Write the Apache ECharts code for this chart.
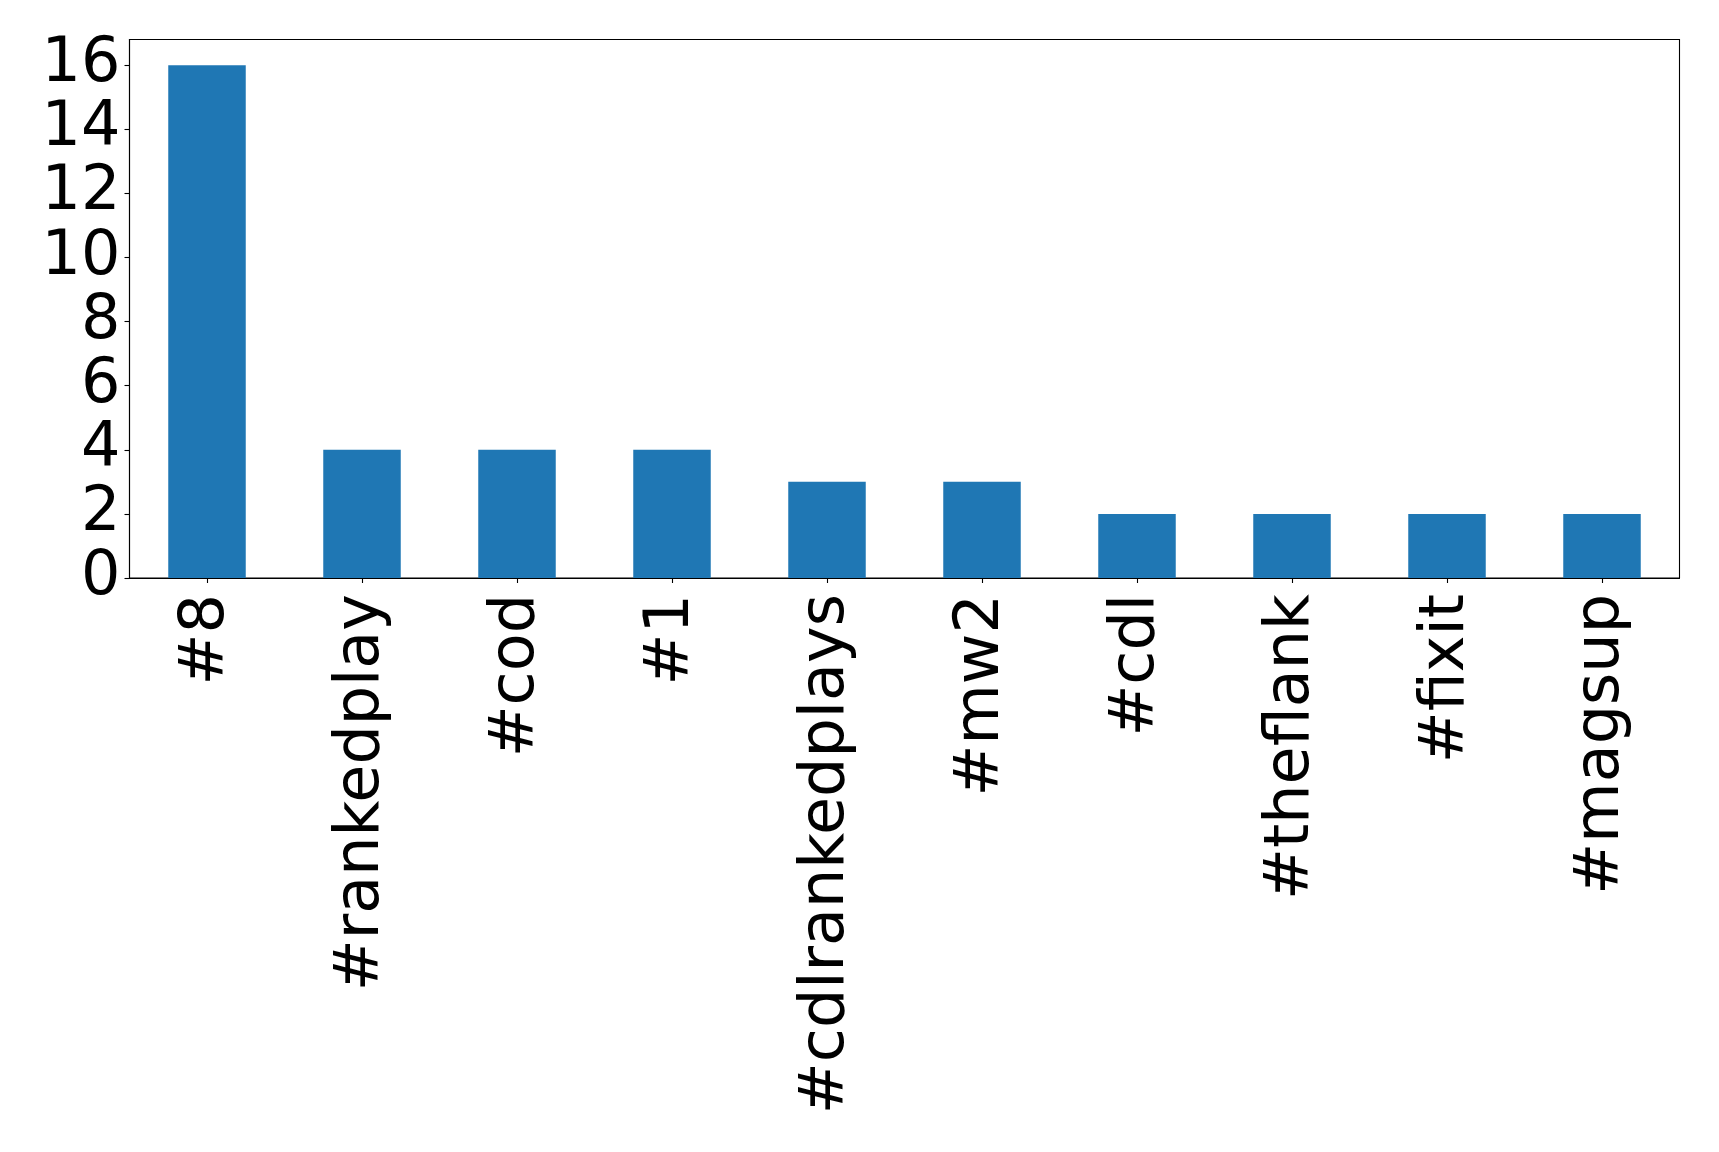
<!DOCTYPE html>
<html>
<head>
<meta charset="utf-8">
<script src="https://cdn.jsdelivr.net/npm/echarts@6/dist/echarts.min.js"></script>
<style>
html,body{margin:0;padding:0;background:#fff;}
#chart{width:1719px;height:1152px;}
</style>
</head>
<body>
<div id="chart"></div>
<script>
const categories = ['#8', '#rankedplay', '#cod', '#1', '#cdlrankedplays', '#mw2', '#cdl', '#theflank', '#fixit', '#magsup'];
const counts = [16, 4, 4, 4, 3, 3, 2, 2, 2, 2];
const yTicks = [0, 2, 4, 6, 8, 10, 12, 14, 16];

const chart = echarts.init(document.getElementById('chart'), null, {renderer: 'canvas'});
const font = 'DejaVu Sans';
chart.setOption({
  animation: false,
  backgroundColor: '#ffffff',
  grid: {
    left: 129.5, top: 39.5, right: 39.5, bottom: 574,
    show: true, borderColor: '#000', borderWidth: 1.1, backgroundColor: 'transparent',
    containLabel: false,
    outerBoundsMode: 'none'
  },
  xAxis: {
    type: 'category',
    data: categories,
    boundaryGap: true,
    axisLine: {show: true, lineStyle: {color: '#000', width: 1.1}},
    axisTick: {show: true, alignWithLabel: true, length: 5, lineStyle: {color: '#000', width: 1.1}},
    axisLabel: {
      rotate: 90, interval: 0, margin: 16, hideOverlap: false,
      fontFamily: font, fontSize: 62, color: '#000'
    },
    splitLine: {show: false}
  },
  yAxis: {
    type: 'value',
    min: 0, max: 16.8,
    axisLine: {show: true, lineStyle: {color: '#000', width: 1.1}},
    axisTick: {show: true, length: 5, customValues: yTicks, lineStyle: {color: '#000', width: 1.1}},
    axisLabel: {
      customValues: yTicks, margin: 9, showMinLabel: true, showMaxLabel: true, hideOverlap: false,
      fontFamily: font, fontSize: 62, color: '#000'
    },
    splitLine: {show: false}
  },
  series: [{
    type: 'bar',
    data: counts,
    barWidth: '50%',
    itemStyle: {color: '#1f77b4'}
  }]
});
</script>
</body>
</html>
